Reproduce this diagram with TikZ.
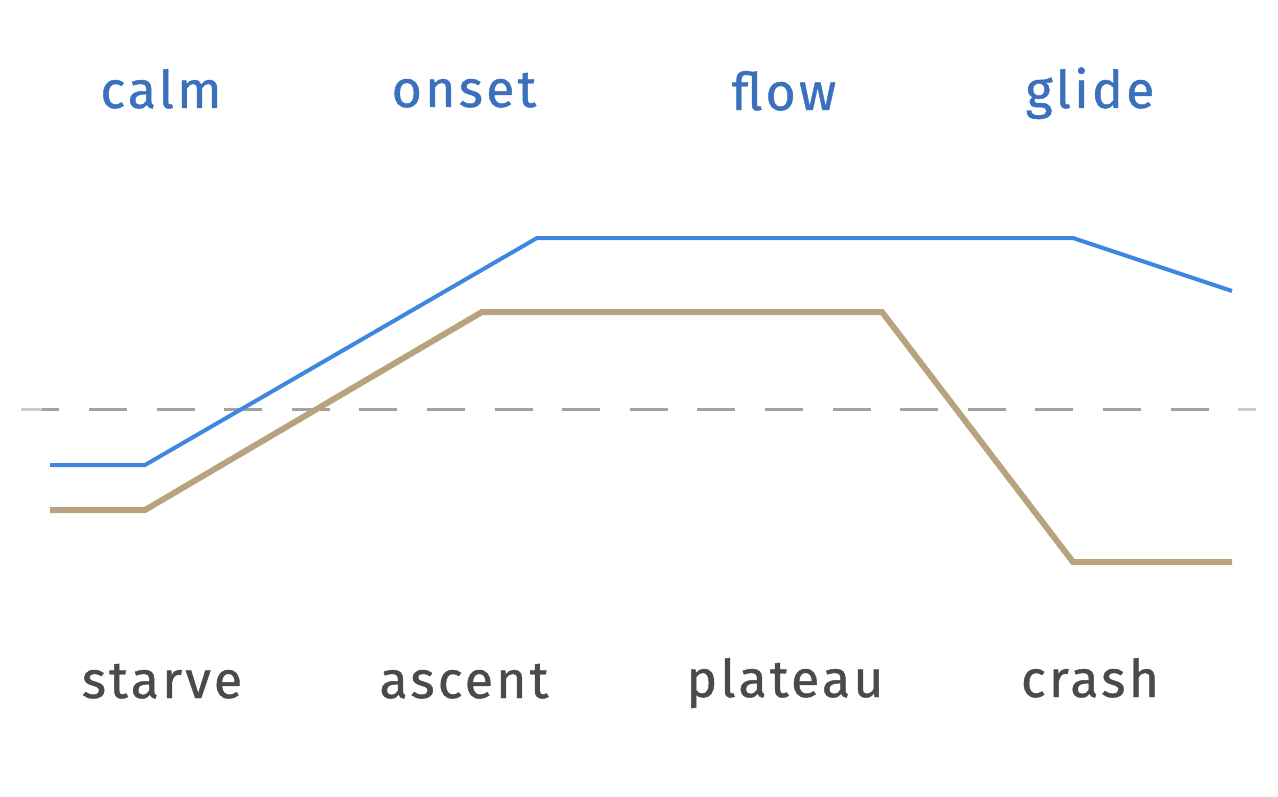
\documentclass[tikz,border=0pt]{standalone}
\usepackage{fontspec}
\setmainfont{Fira Sans}[LetterSpace=6, FakeBold=0.8]
\definecolor{toptext}{HTML}{3A70BC}
\definecolor{bottext}{HTML}{4A4A4A}
\definecolor{blueline}{HTML}{3D87E0}
\definecolor{tanline}{HTML}{B9A37F}
\definecolor{dashgray}{HTML}{A2A2A2}
\definecolor{dashlight}{HTML}{CDCDCD}
\tikzset{
  toplabel/.style={text=toptext, font=\fontsize{52}{60}\selectfont, anchor=base, inner sep=0pt},
  botlabel/.style={text=bottext, font=\fontsize{52}{60}\selectfont, anchor=base, inner sep=0pt},
  blueseries/.style={draw=blueline, line width=4pt, line join=miter},
  tanseries/.style={draw=tanline, line width=6pt, line join=miter},
  refline/.style={line width=3pt, dash pattern=on 38pt off 29.6pt, dash phase=-5.4pt}
}
\begin{document}
\begin{tikzpicture}[x=1pt,y=-1pt]
\useasboundingbox (0,0) rectangle (1278,797);
% labels
\node[toplabel] (calm) at (161,108) {calm};
\node[toplabel] (onset) at (464,107) {onset};
\node[toplabel] (flow) at (784,110) {flow};
\node[toplabel] (glide) at (1090,108) {glide};
\node[botlabel] (starve) at (162,698) {starve};
\node[botlabel] (ascent) at (464,698) {ascent};
\node[botlabel] (plateau) at (785,697) {plateau};
\node[botlabel] (crash) at (1090,697) {crash};
% reference line
\coordinate (rl) at (16,409);
\coordinate (rr) at (1256,409);
\draw[refline, draw=dashlight] (rl) -- (rr);
\begin{scope}
\clip (42,400) rectangle (1233,418);
\draw[refline, draw=dashgray] (rl) -- (rr);
\end{scope}
% series
\coordinate (b0) at (50,465);
\coordinate (b1) at (145,465);
\coordinate (b2) at (537,238);
\coordinate (b3) at (1073,238);
\coordinate (b4) at (1232,291);
\coordinate (t0) at (50,510);
\coordinate (t1) at (145,510);
\coordinate (t2) at (482,312);
\coordinate (t3) at (882,312);
\coordinate (t4) at (1073,562);
\coordinate (t5) at (1232,562);
\draw[tanseries] (t0) -- (t1) -- (t2) -- (t3) -- (t4) -- (t5);
\draw[blueseries] (b0) -- (b1) -- (b2) -- (b3) -- (b4);
\end{tikzpicture}
\end{document}
